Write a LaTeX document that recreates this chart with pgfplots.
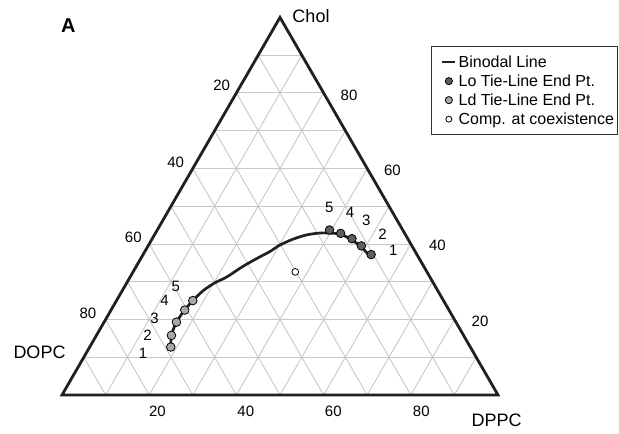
\documentclass[border=0pt]{standalone}
\usepackage{fontspec}
\setmainfont{Liberation Sans}
\usepackage{pgfplots}
\usepackage{pgfplotstable}
\pgfplotsset{compat=1.18}

\definecolor{edge}{HTML}{231F20}
\definecolor{gridgray}{HTML}{C8C8C8}
\definecolor{lofill}{HTML}{5E5E5E}
\definecolor{ldfill}{HTML}{A8A8A8}

% compositions in mol%
\pgfplotstableread{
DOPC DPPC Chol
68.7 18.6 12.7
67.0 17.2 15.8
64.1 16.6 19.3
60.6 16.9 22.5
57.5 17.5 25.0
53.7 18.6 27.7
50.1 20.2 29.7
46.5 22.2 31.3
41.4 24.5 34.1
36.3 27.1 36.6
33.3 28.7 38.0
30.2 30.1 39.7
26.3 32.4 41.3
22.7 34.9 42.4
19.4 37.7 42.9
17.5 39.6 42.9
14.9 42.5 42.6
13.0 45.9 41.1
11.7 49.2 39.1
10.9 52.9 36.2
}\binodal

\pgfplotstableread{
DOPC DPPC Chol
16.8 39.5 43.7
14.7 42.5 42.8
12.8 45.8 41.4
11.6 48.9 39.5
10.5 52.3 37.2
}\lopts

\pgfplotstableread{
DOPC DPPC Chol
57.5 17.5 25.0
60.6 16.9 22.5
64.1 16.6 19.3
67.0 17.2 15.8
68.7 18.6 12.7
}\ldpts

\pgfplotstableread{
DOPC DPPC Chol
30.2 37.2 32.6
}\coexist

% ternary -> cartesian (DOPC at origin, DPPC at (100,0), Chol at the apex)
\pgfplotsset{
  table/ternary/.style={x expr=\thisrow{DPPC}+0.5*\thisrow{Chol}, y expr=0.866025*\thisrow{Chol}},
  lineimg/.style={legend image code/.code={\path[draw=none] (-9pt,0pt) -- (13pt,0pt); \draw[##1, line width=2.6pt] (0pt,0pt) -- (13pt,0pt);}},
  markimg/.style={legend image code/.code={\path[draw=none] (-9pt,0pt) -- (13pt,0pt); \draw[##1, mark size=#1] plot coordinates {(6.5pt,0pt)};}},
}
\tikzset{
  ticklab/.style={font=\fontsize{15}{18}\selectfont, inner sep=0pt},
  numlab/.style={font=\fontsize{15}{18}\selectfont, inner sep=0pt},
  vertlab/.style={font=\fontsize{18}{21}\selectfont, inner sep=0pt},
}

\begin{document}
\begin{tikzpicture}
\begin{axis}[
  width=619pt, height=434pt, scale only axis,
  xmin=-14.22, xmax=127.75, ymin=-8.945, ymax=90.60,
  hide axis, clip=false,
  legend cell align=left,
  legend style={
    at={(axis description cs:0.9982,0.8935)}, anchor=north east,
    draw=black!80, line width=0.8pt,
    font=\fontsize{16}{19}\selectfont,
    inner xsep=1.5pt, inner ysep=7pt, row sep=1.9pt,
    nodes={inner sep=2pt},
  },
]
\path (rel axis cs:0,0) rectangle (rel axis cs:1,1);

% grid every 10 mol%
\pgfplotsinvokeforeach{10,20,...,90}{
  \draw[gridgray, line width=0.9pt] (axis cs:{#1/2},{0.866025*#1}) -- (axis cs:{100-#1/2},{0.866025*#1});
  \draw[gridgray, line width=0.9pt] (axis cs:#1,0) -- (axis cs:{50+#1/2},{0.866025*(100-#1)});
  \draw[gridgray, line width=0.9pt] (axis cs:#1,0) -- (axis cs:{#1/2},{0.866025*#1});
}

% triangle
\draw[edge, line width=2.8pt] (axis cs:0,0) -- (axis cs:100,0) -- (axis cs:50,86.6025) -- cycle;

\addplot[edge, line width=2.7pt, smooth, tension=0.5, lineimg]
  table[ternary] {\binodal};
\addlegendentry{Binodal Line}

\addplot[only marks, mark=*, mark size=4.3pt, mark options={fill=lofill, draw=black, line width=0.8pt}, markimg=3.6pt]
  table[ternary] {\lopts};
\addlegendentry{Lo Tie-Line End Pt.}

\addplot[only marks, mark=*, mark size=4.3pt, mark options={fill=ldfill, draw=black, line width=0.8pt}, markimg=3.6pt]
  table[ternary] {\ldpts};
\addlegendentry{Ld Tie-Line End Pt.}

\addplot[only marks, mark=*, mark size=3.4pt, mark options={fill=white, draw=black, line width=0.8pt}, markimg=3pt]
  table[ternary] {\coexist};
\addlegendentry{Comp. at coexistence}

% tick labels: DPPC (bottom), Chol (right), DOPC (left)
\node[ticklab] at (axis cs:21.90,-3.67) {20};
\node[ticklab] at (axis cs:42.16,-3.67) {40};
\node[ticklab] at (axis cs:62.23,-3.67) {60};
\node[ticklab] at (axis cs:82.41,-3.67) {80};
\node[ticklab] at (axis cs:65.83,68.81) {80};
\node[ticklab] at (axis cs:75.80,51.49) {60};
\node[ticklab] at (axis cs:86.12,34.40) {40};
\node[ticklab] at (axis cs:95.87,16.81) {20};
\node[ticklab] at (axis cs:36.63,71.10) {20};
\node[ticklab] at (axis cs:26.08,53.39) {40};
\node[ticklab] at (axis cs:16.35,36.19) {60};
\node[ticklab] at (axis cs:5.96,18.62) {80};

% vertex labels
\node[vertlab] at (axis cs:57.11,86.81) {Chol};
\node[vertlab] at (axis cs:-5.16,9.75) {DOPC};
\node[vertlab] at (axis cs:99.70,-5.73) {DPPC};
\node[font=\bfseries\fontsize{20}{24}\selectfont, inner sep=0pt] at (axis cs:1.44,84.79) {A};

% tie-line numbering
\node[numlab] at (axis cs:26.10,24.93) {5};
\node[numlab] at (axis cs:23.51,21.67) {4};
\node[numlab] at (axis cs:21.22,17.66) {3};
\node[numlab] at (axis cs:19.61,13.69) {2};
\node[numlab] at (axis cs:18.58,9.45) {1};
\node[numlab] at (axis cs:61.28,43.12) {5};
\node[numlab] at (axis cs:66.06,41.79) {4};
\node[numlab] at (axis cs:69.77,40.02) {3};
\node[numlab] at (axis cs:73.51,36.97) {2};
\node[numlab] at (axis cs:75.99,33.26) {1};
\end{axis}
\end{tikzpicture}
\end{document}
